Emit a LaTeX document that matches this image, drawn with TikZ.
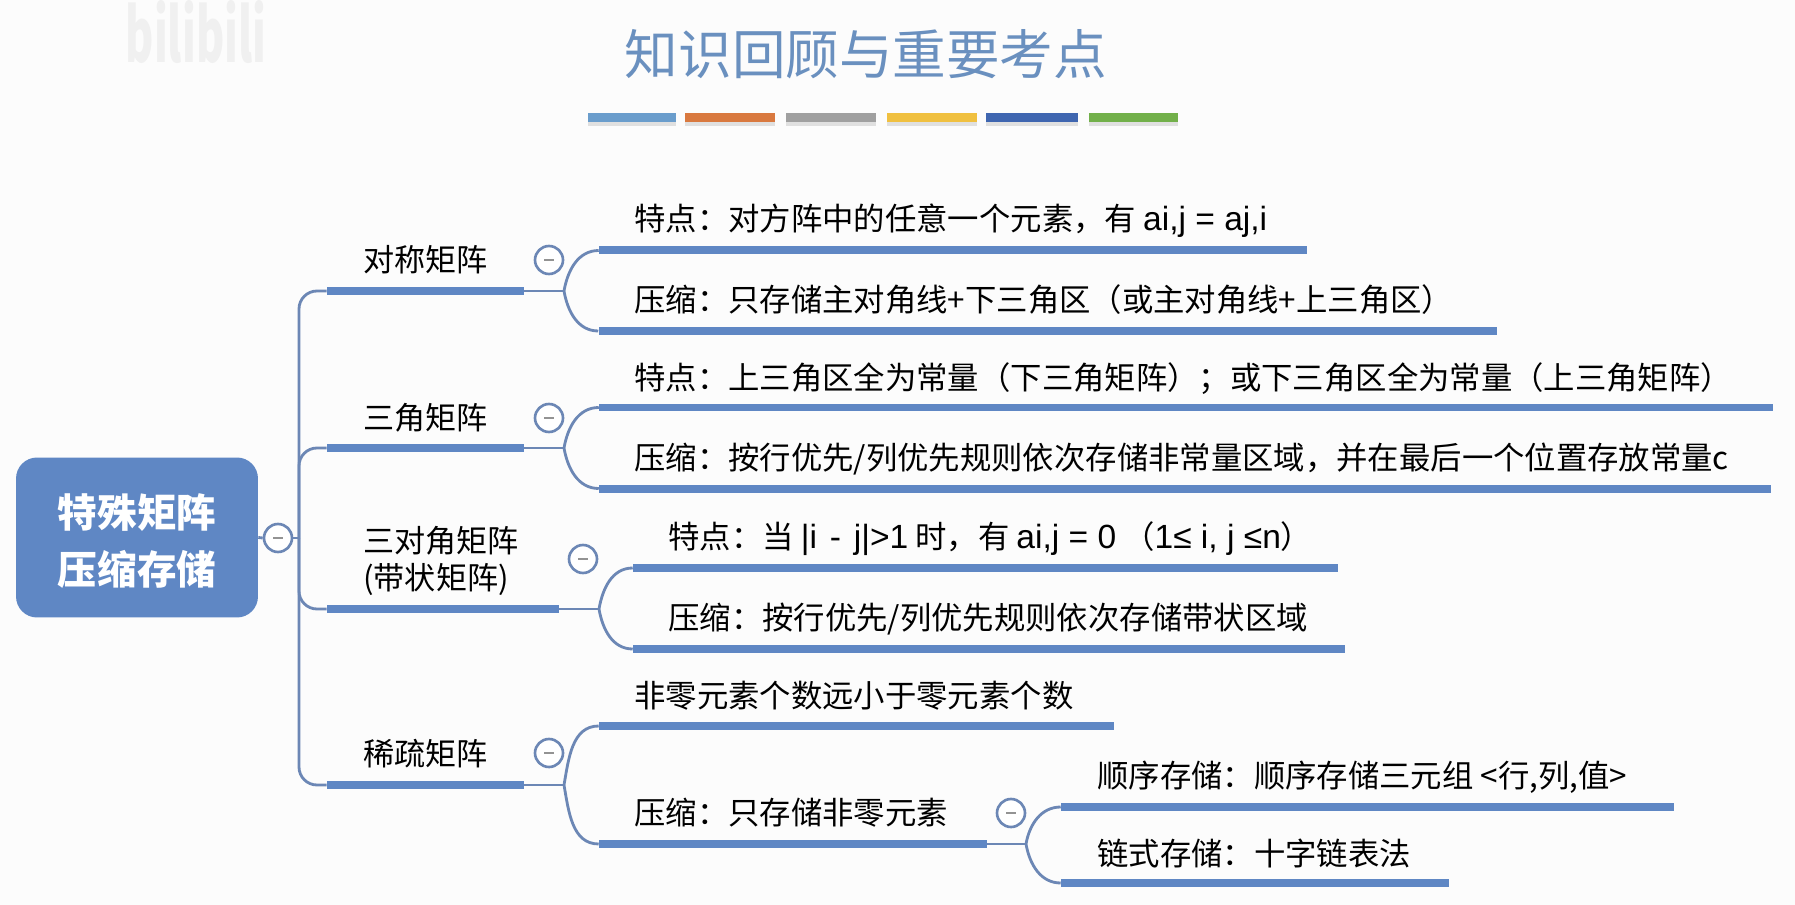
\documentclass[tikz,border=0pt]{standalone}
\usepackage{fontspec}
\usepackage{xcolor}
\setmainfont{Noto Sans CJK SC}
\newfontfamily\latinfont[Scale=1.07]{Liberation Sans}
\usetikzlibrary{positioning, shadows}

\definecolor{barblue}{HTML}{5F87C4}
\definecolor{linkblue}{HTML}{6C87B5}
\definecolor{titleblue}{HTML}{6A90BF}
\definecolor{stripeA}{HTML}{6A9DCC}
\definecolor{stripeB}{HTML}{D9793F}
\definecolor{stripeC}{HTML}{A0A0A0}
\definecolor{stripeD}{HTML}{F0C040}
\definecolor{stripeE}{HTML}{3F66B0}
\definecolor{stripeF}{HTML}{72B04A}

\begin{document}
\begin{tikzpicture}[
  x=0.02cm, y=-0.02cm,
  rootbox/.style={rectangle, rounded corners=0.42cm, fill=barblue, minimum width=4.84cm, minimum height=3.2cm},
  roottext/.style={text=white, align=center, inner sep=0pt, font=\fontsize{22.5}{32}\selectfont\bfseries},
  bar/.style={rectangle, fill=barblue, inner sep=0pt, minimum height=0.16cm},
  fold/.style={circle, draw=linkblue, fill=white, line width=1.5pt, minimum size=0.56cm, inner sep=0pt,
    path picture={\draw[gray!85, line width=1.4pt] ([xshift=-0.1cm]path picture bounding box.center) -- ([xshift=0.1cm]path picture bounding box.center);}},
  topic/.style={anchor=west, inner sep=0pt, align=left, font=\fontsize{17.7}{21.5}\selectfont},
  note/.style={anchor=west, inner sep=0pt, font=\fontsize{17.85}{21}\selectfont},
  link/.style={draw=linkblue, line width=1.6pt},
  stripe/.style={rectangle, inner sep=0pt, minimum height=0.19cm, drop shadow={opacity=0.22, shadow xshift=0pt, shadow yshift=-2pt}}
]
  \useasboundingbox (0,0) rectangle (1795,905);
  \fill[white!99!black] (0,0) rectangle (1795,905);

  \node [text=gray!12, font=\fontsize{34}{34}\selectfont\bfseries] (mark) at (196,32) {\scalebox{0.72}[1.25]{bilibili}};

  \node [text=titleblue, font=\fontsize{30.5}{36}\selectfont] (title) at (866,54) {知识回顾与重要考点};
  \node [stripe, fill=stripeA, minimum width=1.77cm] (s1) at (632,117.5) {};
  \node [stripe, fill=stripeB, minimum width=1.81cm] (s2) at (730,117.5) {};
  \node [stripe, fill=stripeC, minimum width=1.80cm] (s3) at (831,117.5) {};
  \node [stripe, fill=stripeD, minimum width=1.79cm] (s4) at (932,117.5) {};
  \node [stripe, fill=stripeE, minimum width=1.84cm] (s5) at (1032,117.5) {};
  \node [stripe, fill=stripeF, minimum width=1.78cm] (s6) at (1133.5,117.5) {};

  \node [rootbox] (root) at (137,537.5) {};
  \node [roottext] (rootlabel) at (137,541) {特殊矩阵\\压缩存储};
  \node [fold] (rootfold) at (278,538) {};
  \coordinate (hub) at (299,538);

  % first level
  \node [bar, minimum width=3.94cm] (sym) at (425.5,291) {};
  \node [bar, minimum width=3.94cm] (tri) at (425.5,448) {};
  \node [bar, minimum width=4.64cm] (band) at (443,609) {};
  \node [bar, minimum width=3.94cm] (sparse) at (425.5,785) {};

  \node [topic] (symtext) at (363,260) {对称矩阵};
  \node [topic] (tritext) at (363,418) {三角矩阵};
  \node [topic] (bandtext) at (363,561) {三对角矩阵\\(带状矩阵)};
  \node [topic] (sparsetext) at (363,754) {稀疏矩阵};

  \node [fold] (symfold) at (549,260) {};
  \node [fold] (trifold) at (549,418) {};
  \node [fold] (bandfold) at (583,559) {};
  \node [fold] (sparsefold) at (549,753) {};

  \coordinate (symfork) at (564,291);
  \coordinate (trifork) at (564,448);
  \coordinate (bandfork) at (599,609);
  \coordinate (sparsefork) at (564,785);

  % second level
  \node [bar, minimum width=14.16cm] (symA) at (953,250.5) {};
  \node [bar, minimum width=17.98cm] (symB) at (1048,331) {};
  \node [bar, minimum width=23.48cm] (triA) at (1186,407.5) {};
  \node [bar, minimum width=23.44cm] (triB) at (1185,488.5) {};
  \node [bar, minimum width=14.10cm] (bandA) at (985.5,568) {};
  \node [bar, minimum width=14.24cm] (bandB) at (989,649) {};
  \node [bar, minimum width=10.30cm] (sparseA) at (856.5,726) {};
  \node [bar, minimum width=7.76cm] (sparseB) at (793,844) {};

  \node [note] (symAtext) at (634,221) {特点：对方阵中的任意一个元素，有 {\latinfont ai,j = aj,i}};
  \node [note] (symBtext) at (634,300) {压缩：只存储主对角线+下三角区（或主对角线+上三角区）};
  \node [note] (triAtext) at (634,379) {特点：上三角区全为常量（下三角矩阵）；或下三角区全为常量（上三角矩阵）};
  \node [note] (triBtext) at (634,459) {压缩：按行优先/列优先规则依次存储非常量区域，并在最后一个位置存放常量c};
  \node [note] (bandAtext) at (668,539) {特点：当 {\latinfont |i\hspace{2pt} - \hspace{2pt}j|>1} 时，有 {\latinfont ai,j = 0}\hspace{4pt}（{\latinfont 1≤ i, j ≤n}）};
  \node [note] (bandBtext) at (668,619) {压缩：按行优先/列优先规则依次存储带状区域};
  \node [note] (sparseAtext) at (634,696) {非零元素个数远小于零元素个数};
  \node [note] (sparseBtext) at (634,813) {压缩：只存储非零元素};

  \node [fold] (storefold) at (1011,813) {};
  \coordinate (storefork) at (1026,844);

  % third level
  \node [bar, minimum width=12.26cm] (storeA) at (1367.5,807) {};
  \node [bar, minimum width=7.76cm] (storeB) at (1255,883) {};
  \node [note] (storeAtext) at (1097,777) {顺序存储：顺序存储三元组 <行,列,值>};
  \node [note] (storeBtext) at (1097,853) {链式存储：十字链表法};

  \draw [link] (root.east) -- (rootfold.west);
  \draw [link] (rootfold.east) -- (hub);
  \draw [link, rounded corners=0.36cm] (hub) |- (sym.west);
  \draw [link, rounded corners=0.36cm] (hub) |- (tri.west);
  \draw [link, rounded corners=0.36cm] (hub) |- (band.west);
  \draw [link, rounded corners=0.36cm] (hub) |- (sparse.west);

  \draw [link] (sym.east) -- (symfork);
  \draw [link] (tri.east) -- (trifork);
  \draw [link] (band.east) -- (bandfork);
  \draw [link] (sparse.east) -- (sparsefork);
  \draw [link] (sparseB.east) -- (storefork);

  \draw [link] (symfork) to[out=80, in=180] (symA.west);
  \draw [link] (symfork) to[out=-80, in=180] (symB.west);
  \draw [link] (trifork) to[out=80, in=180] (triA.west);
  \draw [link] (trifork) to[out=-80, in=180] (triB.west);
  \draw [link] (bandfork) to[out=80, in=180] (bandA.west);
  \draw [link] (bandfork) to[out=-80, in=180] (bandB.west);
  \draw [link] (sparsefork) to[out=80, in=180] (sparseA.west);
  \draw [link] (sparsefork) to[out=-80, in=180] (sparseB.west);
  \draw [link] (storefork) to[out=80, in=180] (storeA.west);
  \draw [link] (storefork) to[out=-80, in=180] (storeB.west);
\end{tikzpicture}
\end{document}
